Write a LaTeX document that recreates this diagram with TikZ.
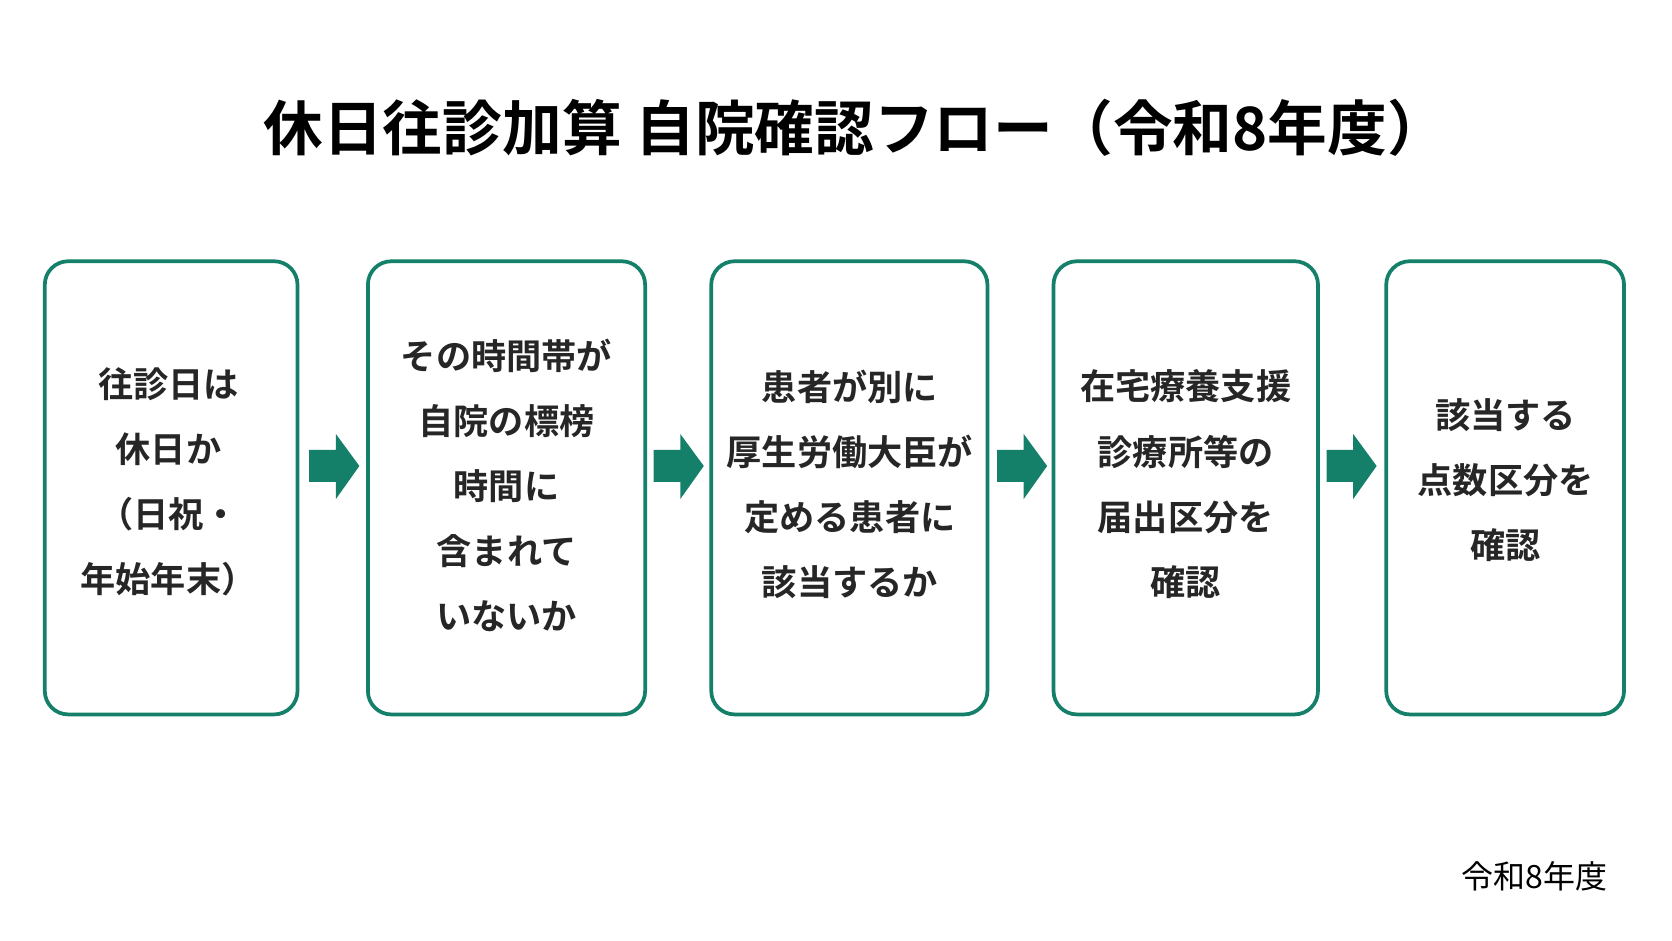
\documentclass[tikz,border=0pt]{standalone}
\usepackage{fontspec}
\newfontfamily\jp{Noto Sans CJK JP}
\newfontfamily\jpb{Noto Sans CJK JP Bold}
\definecolor{gr}{HTML}{14806A}
\begin{document}
\begin{tikzpicture}[x=1pt,y=-1pt,
 box/.style={draw=gr,line width=3.5pt,rounded corners=22pt,fill=white},
 txt/.style={align=center,font=\jpb\fontsize{33}{61}\selectfont,text=black!85},
 arr/.style={fill=gr,draw=none}]
\useasboundingbox (0,0) rectangle (1568,882);
\node[font=\jpb\fontsize{56}{60}\selectfont] (title) at (802,120) {休日往診加算 自院確認フロー（令和8年度）};
\foreach \n/\a/\b in {b1/42/279,b2/345/605,b3/667/926,b4/988/1236,b5/1300/1523}
  \draw[box] (\a,245) rectangle (\b,670) coordinate (\n);
\node[txt] (t1) at (158,452) {往診日は\\休日か\\（日祝・\\年始年末）};
\node[txt] (t2) at (475,455) {その時間帯が\\自院の標榜\\時間に\\含まれて\\いないか};
\node[txt] (t3) at (797,454) {患者が別に\\厚生労働大臣が\\定める患者に\\該当するか};
\node[txt] (t4) at (1112,454) {在宅療養支援\\診療所等の\\届出区分を\\確認};
\node[txt] (t5) at (1412,450) {該当する\\点数区分を\\確認};
\foreach \x in {290,613,935,1244}
  \fill[arr] (\x,422)--(\x+25,422)--(\x+25,407)--(\x+47,437)--(\x+25,468)--(\x+25,452)--(\x,452)--cycle;
\node[font=\jp\fontsize{30}{34}\selectfont,anchor=east] (foot) at (1511,822) {令和8年度};
\end{tikzpicture}
\end{document}
